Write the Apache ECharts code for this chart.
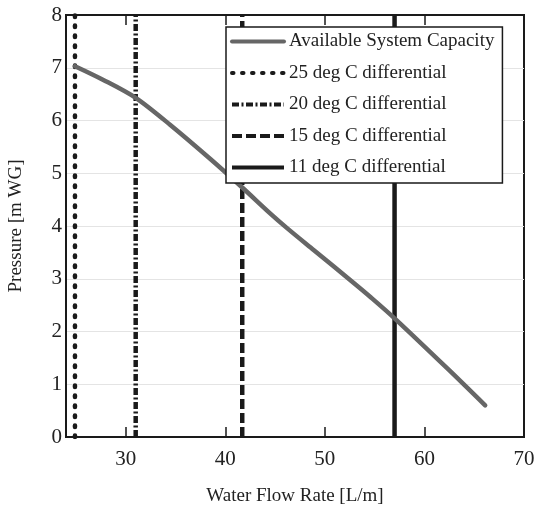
<!DOCTYPE html>
<html>
<head>
<meta charset="utf-8">
<script src="https://cdn.jsdelivr.net/npm/echarts@6/dist/echarts.min.js"></script>
<style>html,body{margin:0;padding:0;background:#fff}#c{width:539px;height:511px}</style>
</head>
<body>
<div id="c"></div>
<script>
var capacityX = [24.9, 27.75, 31.0, 34.45, 38.5, 41.7, 44.5, 46.2, 48.9, 52.9, 54.6, 57.0, 62.3, 66.1];
var capacityY = [7.03, 6.77, 6.43, 5.92, 5.27, 4.73, 4.24, 3.96, 3.54, 2.92, 2.65, 2.25, 1.3, 0.6];
var diffNames = ['25 deg C differential', '20 deg C differential', '15 deg C differential', '11 deg C differential'];
var diffFlows = [24.9, 31.0, 41.7, 57.0];
var xTicks = [30, 40, 50, 60, 70];
var yTicks = [0, 1, 2, 3, 4, 5, 6, 7, 8];

var FONT = 'Liberation Serif';
var styles = [
  {type: [1.5, 8.5], cap: 'round', width: 4.5, color: '#1a1a1a'},
  {type: [7, 2.5, 2, 2.5], width: 4.5, color: '#1a1a1a'},
  {type: [10, 4], width: 4.5, color: '#1a1a1a'},
  {type: 'solid', width: 4.5, color: '#1a1a1a'}
];

var series = [{
  name: 'Available System Capacity',
  type: 'line',
  symbol: 'none',
  smooth: 0.3,
  data: capacityX.map(function (x, i) { return [x, capacityY[i]]; }),
  lineStyle: {color: '#666666', width: 4.5, cap: 'round', join: 'round'},
  itemStyle: {color: '#666666'},
  z: 3
}];
diffNames.forEach(function (n, i) {
  series.push({
    name: n,
    type: 'line',
    symbol: 'none',
    data: [[diffFlows[i], yTicks[0]], [diffFlows[i], yTicks[yTicks.length - 1]]],
    lineStyle: styles[i],
    itemStyle: {color: '#1a1a1a'},
    z: 2
  });
});

var chart = echarts.init(document.getElementById('c'), null, {renderer: 'canvas'});
chart.setOption({
  animation: false,
  backgroundColor: '#ffffff',
  textStyle: {fontFamily: FONT, color: '#222'},
  grid: {left: 66, right: 15, top: 15, bottom: 74, outerBoundsMode: 'none', containLabel: false, show: true, borderColor: '#1a1a1a', borderWidth: 2, backgroundColor: 'transparent'},
  legend: {
    orient: 'vertical',
    left: 226, top: 27,
    padding: [5, 8, 6, 4],
    itemWidth: 52, itemHeight: 14, itemGap: 12.5,
    backgroundColor: '#ffffff',
    borderColor: '#1a1a1a', borderWidth: 1.5, borderRadius: 0,
    itemStyle: {opacity: 0},
    lineStyle: {width: 4},
    textStyle: {fontFamily: FONT, fontSize: 19, color: '#222', padding: [0, 0, 0, 0]},
    data: ['Available System Capacity'].concat(diffNames)
  },
  xAxis: [{
    type: 'value', min: 24, max: 70,
    name: 'Water Flow Rate [L/m]', nameLocation: 'middle', nameGap: 50,
    nameTextStyle: {fontFamily: FONT, fontSize: 19, color: '#222'},
    axisLine: {show: true, onZero: false, lineStyle: {color: '#1a1a1a', width: 2}},
    axisTick: {show: true, inside: true, length: 10, customValues: xTicks.slice(0, 4), lineStyle: {color: '#1a1a1a', width: 1.5}},
    axisLabel: {customValues: xTicks, fontFamily: FONT, fontSize: 21, color: '#222', margin: 12},
    splitLine: {show: false}
  }, {
    type: 'value', min: 24, max: 70, position: 'top',
    axisLine: {show: true, onZero: false, lineStyle: {color: '#1a1a1a', width: 2}},
    axisTick: {show: true, inside: true, length: 10, customValues: xTicks.slice(0, 4), lineStyle: {color: '#1a1a1a', width: 1.5}},
    axisLabel: {show: false},
    splitLine: {show: false}
  }],
  yAxis: [{
    type: 'value', min: 0, max: 8, interval: 1,
    name: 'Pressure [m WG]', nameLocation: 'middle', nameGap: 40,
    nameTextStyle: {fontFamily: FONT, fontSize: 19, color: '#222'},
    axisLine: {show: true, lineStyle: {color: '#1a1a1a', width: 2}},
    axisTick: {show: false},
    axisLabel: {fontFamily: FONT, fontSize: 21, color: '#222', margin: 4},
    splitLine: {show: true, lineStyle: {color: '#e4e4e4', width: 1}}
  }],
  series: series
});
</script>
</body>
</html>
